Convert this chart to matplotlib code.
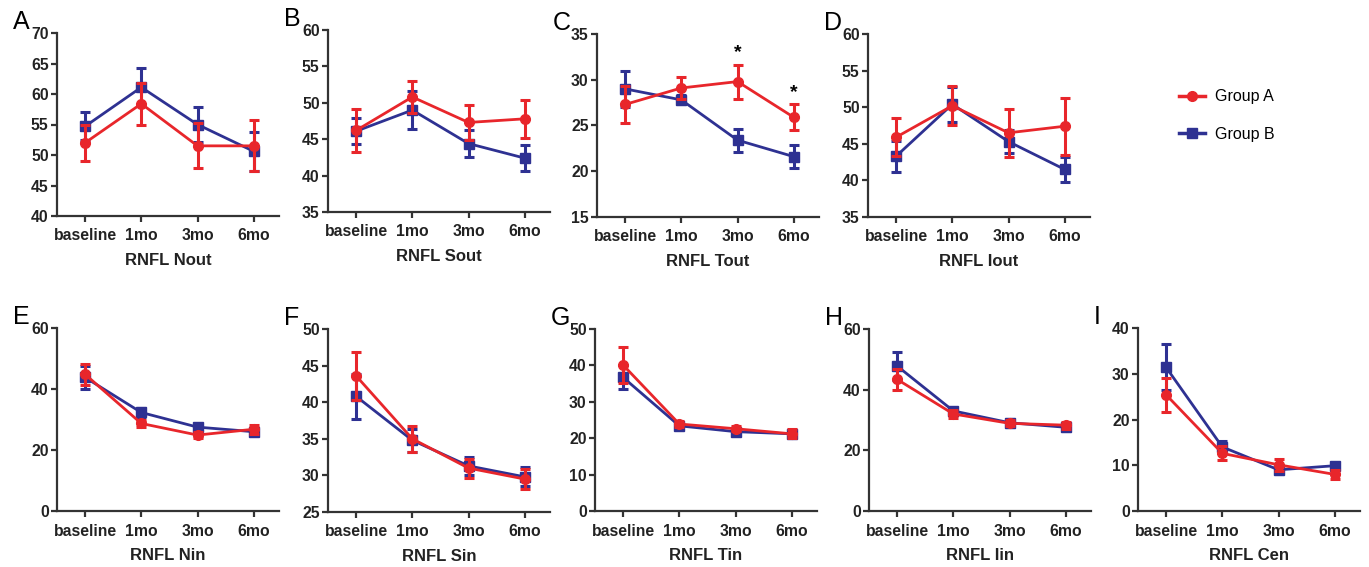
import matplotlib.pyplot as plt
from matplotlib.lines import Line2D
import numpy as np

plt.rcParams['font.family'] = ['Liberation Sans', 'DejaVu Sans']

timepoints = ['baseline', '1mo', '3mo', '6mo']
letters = ['A', 'B', 'C', 'D', 'E', 'F', 'G', 'H', 'I']
titles = ['RNFL Nout', 'RNFL Sout', 'RNFL Tout', 'RNFL Iout',
          'RNFL Nin', 'RNFL Sin', 'RNFL Tin', 'RNFL Iin', 'RNFL Cen']

# group A (red) means and errors
a_mean = [
    [52.0, 58.4, 51.5, 51.5],
    [46.2, 50.8, 47.3, 47.8],
    [27.3, 29.1, 29.8, 25.9],
    [45.9, 50.2, 46.5, 47.4],
    [44.8, 28.7, 24.9, 26.8],
    [43.6, 35.0, 31.0, 29.5],
    [40.1, 23.9, 22.6, 21.2],
    [43.4, 32.0, 28.9, 28.3],
    [25.4, 12.6, 10.1, 8.0],
]
a_err = [
    [3.0, 3.4, 3.7, 4.2],
    [3.0, 2.2, 2.45, 2.6],
    [2.0, 1.2, 1.85, 1.4],
    [2.6, 2.7, 3.3, 3.9],
    [3.5, 1.0, 1.0, 1.5],
    [3.3, 1.75, 1.3, 1.4],
    [5.0, 0.8, 0.7, 1.2],
    [3.5, 1.2, 1.0, 1.2],
    [3.7, 1.5, 1.3, 0.9],
]
# group B (blue)
b_mean = [
    [54.7, 61.1, 55.0, 50.6],
    [46.1, 49.0, 44.4, 42.4],
    [29.0, 27.8, 23.4, 21.6],
    [43.3, 50.4, 45.3, 41.5],
    [43.8, 32.3, 27.5, 26.0],
    [40.8, 34.8, 31.3, 29.8],
    [36.7, 23.4, 21.8, 21.2],
    [47.8, 33.0, 29.1, 27.6],
    [31.4, 14.0, 9.0, 9.9],
]
b_err = [
    [2.3, 3.1, 2.8, 3.2],
    [1.8, 2.6, 1.8, 1.8],
    [2.0, 0.5, 1.25, 1.25],
    [2.1, 2.4, 1.6, 1.7],
    [3.8, 1.5, 1.0, 1.0],
    [3.1, 1.6, 1.2, 1.3],
    [3.3, 0.7, 0.8, 0.8],
    [4.5, 1.0, 1.3, 1.2],
    [5.0, 1.3, 0.9, 0.7],
]
y_ranges = [(40, 70, 5), (35, 60, 5), (15, 35, 5), (35, 60, 5),
            (0, 60, 20), (25, 50, 5), (0, 50, 10), (0, 60, 20), (0, 40, 10)]
# significance stars on panel C (index, y)
stars = [(2, 33.0), (3, 28.6)]

W, H = 1369, 567
# left, top, bottom pixel positions for each panel
boxes = [(57, 33, 216), (328, 30, 212), (597, 34, 217), (868, 34, 217),
         (57, 328, 511), (328, 329, 512), (595, 329, 511), (869, 329, 511),
         (1138, 328, 511)]
ax_w = 222

red = '#E8262B'
blue = '#2E3192'
spine_c = '#333333'

fig = plt.figure(figsize=(W / 100, H / 100), dpi=100)
x = np.arange(4)
for i in range(9):
    l, t, b = boxes[i]
    ax = fig.add_axes([l / W, 1 - b / H, ax_w / W, (b - t) / H])
    ax.errorbar(x, b_mean[i], yerr=b_err[i], color=blue, marker='s', ms=6.5,
                lw=2, elinewidth=2.2, capsize=3.6, capthick=2.2, clip_on=False, zorder=3)
    ax.errorbar(x, a_mean[i], yerr=a_err[i], color=red, marker='o', ms=7,
                lw=2, elinewidth=2.2, capsize=3.6, capthick=2.2, clip_on=False, zorder=4)
    lo, hi, st = y_ranges[i]
    ax.set_ylim(lo, hi)
    ax.set_yticks(np.arange(lo, hi + 0.1, st))
    ax.set_xlim(-0.5, 3.45)
    ax.set_xticks(x)
    ax.set_xticklabels(timepoints)
    for s in ['top', 'right']:
        ax.spines[s].set_visible(False)
    for s in ['left', 'bottom']:
        ax.spines[s].set_linewidth(1.6)
        ax.spines[s].set_color(spine_c)
    ax.tick_params(length=4, width=1.6, color=spine_c, labelsize=11.3, pad=2,
                   labelcolor='#222222')
    for lab in ax.get_xticklabels() + ax.get_yticklabels():
        lab.set_fontweight('bold')
    ax.tick_params(axis='x', pad=5)
    ax.set_xlabel(titles[i], fontsize=12, fontweight='bold', color='#222222', labelpad=7)
    fig.text((l - 44) / W, 1 - (t - 11) / H, letters[i], fontsize=18, va='center', ha='left')
    if i == 2:
        for xi, ys in stars:
            ax.text(xi, ys, '*', ha='center', va='center', fontsize=14, fontweight='bold')

handles = [Line2D([], [], color=red, marker='o', ms=7, lw=2.5),
           Line2D([], [], color=blue, marker='s', ms=6.5, lw=2.5)]
fig.legend(handles, ['Group A', 'Group B'], loc='upper left',
           bbox_to_anchor=(1165 / W, 1 - 75 / H), frameon=False, fontsize=11.5,
           handlelength=1.6, labelspacing=1.4, handletextpad=0.6)

fig.savefig('out.png', dpi=100)
